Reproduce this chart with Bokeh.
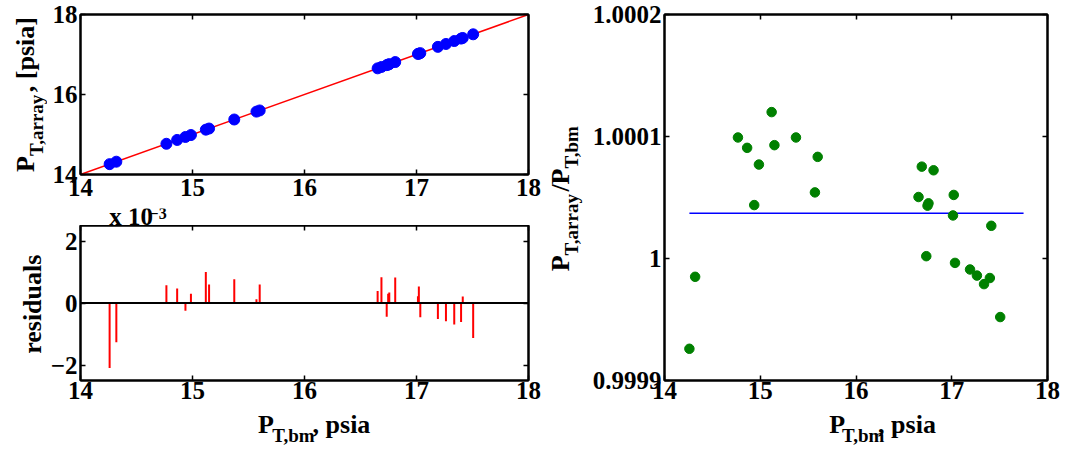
import math
from bokeh.plotting import figure
from bokeh.layouts import row, column
from bokeh.models import Label, LinearAxis, FixedTicker, Span
from bokeh.embed import file_html
from bokeh.resources import INLINE

# ---- data ----
p_bm = [14.260, 14.320, 14.767, 14.863, 14.937, 14.986, 15.119, 15.148, 15.373,
        15.571, 15.600, 16.653, 16.687, 16.734, 16.747, 16.757, 16.810, 17.013,
        17.021, 17.034, 17.191, 17.263, 17.337, 17.398, 17.413, 17.506]
p_array = [14.259, 14.320, 14.768, 14.864, 14.938, 14.987, 15.121, 15.149, 15.375,
           15.572, 15.601, 16.654, 16.688, 16.734, 16.748, 16.758, 16.811, 17.014,
           17.022, 17.034, 17.191, 17.263, 17.337, 17.398, 17.413, 17.505]
ratio = [0.999926, 0.999985, 1.0000992, 1.0000907, 1.0000438, 1.0000770, 1.0001200,
         1.0000929, 1.0000992, 1.0000542, 1.0000833, 1.0000504, 1.0000753, 1.0000019,
         1.0000433, 1.0000452, 1.0000723, 1.0000353, 1.0000521, 0.9999964, 0.9999910,
         0.9999860, 0.9999790, 0.9999840, 1.0000268, 0.9999520]
resid_e3 = [-2.10, -1.27, 0.57, 0.47, -0.25, 0.30, 1.00, 0.60, 0.77, 0.12, 0.60,
            0.39, 0.83, -0.44, 0.30, 0.34, 0.82, 0.22, 0.53, -0.46, -0.52, -0.59,
            -0.69, -0.61, 0.21, -1.13]
ident_line = [14, 18]
fit_x = [14.26, 17.75]
fit_ratio = [1.000037, 1.000037]

x_ticks = [14, 15, 16, 17, 18]
y1_ticks = [14, 16, 18]
y2_ticks = [-2, 0, 2]
y2_labels = ["\u22122", "0", "2"]
y3_ticks = [0.9999, 1.0, 1.0001, 1.0002]
y3_labels = ["0.9999", "1", "1.0001", "1.0002"]

FONT = "Liberation Serif"
TICK = 25
MAIN = 26
SUB = 19
SH = 8          # subscript drop in px
MID = 0.3375    # label anchor sits this fraction of the font size above the baseline

W = {' ': 250, ',': 250, '.': 250, '/': 278, '[': 333, ']': 333, 'P': 611, 'T': 667,
     'a': 500, 'b': 556, 'd': 556, 'e': 444, 'i': 278, 'l': 278, 'm': 833, 'p': 556,
     'r': 444, 's': 389, 'u': 556, 'x': 500, 'y': 500, '\u2212': 570}


def tw(t, s):
    return sum(W.get(c, 500) for c in t) * s / 1000.0 + (1.0 if s < MAIN else 0.0)


def mk(x, y, t, s, angle=0.0):
    return Label(x=x, y=y, text=t, text_font=FONT, text_font_style="bold",
                 text_font_size=f"{s}px", text_color="black", text_align="left",
                 text_baseline="alphabetic", angle=angle)


def hlabel(p, pieces, x0, base_y, center=True):
    total = sum(tw(t, s) for t, s, _ in pieces)
    x = x0 - total / 2 if center else x0
    for t, s, sh in pieces:
        p.add_layout(mk(x, base_y + sh + MID * s, t, s))
        x += tw(t, s)


def vlabel(p, pieces, base_x, cy):
    total = sum(tw(t, s) for t, s, _ in pieces)
    y = cy - total / 2
    for t, s, sh in pieces:
        p.add_layout(mk(base_x - sh - MID * s, y, t, s, angle=math.pi / 2))
        y += tw(t, s)


def holder(w, h):
    f = figure(width=w, height=h, x_range=(0, w), y_range=(0, h), output_backend="svg",
               toolbar_location=None, min_border=0, x_axis_location=None,
               y_axis_location=None)
    f.xgrid.visible = False
    f.ygrid.visible = False
    f.outline_line_color = None
    f.background_fill_color = "white"
    f.border_fill_color = "white"
    return f


def style_axis(ax, ticks, labels=None, standoff=3):
    ax.ticker = FixedTicker(ticks=ticks)
    ax.major_tick_in = 5
    ax.major_tick_out = 0
    ax.minor_tick_in = 0
    ax.minor_tick_out = 0
    ax.axis_line_color = "black"
    ax.axis_line_width = 2
    ax.major_tick_line_color = "black"
    ax.major_tick_line_width = 1.5
    ax.major_label_text_font = FONT
    ax.major_label_text_font_style = "bold"
    ax.major_label_text_color = "black"
    if labels is False:
        ax.major_label_overrides = {t: "" for t in ticks}
        ax.major_label_text_font_size = "1px"
        ax.major_label_standoff = 0
    else:
        ax.major_label_text_font_size = f"{TICK}px"
        ax.major_label_standoff = standoff
        if labels is not None:
            ax.major_label_overrides = dict(zip(ticks, labels))


def make_fig(w, h, yr, bl, br, bt, bb, yticks, ylabels=None, xstand=3):
    p = figure(width=w, height=h, x_range=(14, 18), y_range=yr, output_backend="svg",
               toolbar_location=None, min_border_left=bl, min_border_right=br,
               min_border_top=bt, min_border_bottom=bb)
    p.xgrid.visible = False
    p.ygrid.visible = False
    p.outline_line_color = "black"
    p.outline_line_width = 2
    p.background_fill_color = "white"
    p.border_fill_color = "white"
    style_axis(p.xaxis[0], x_ticks, standoff=xstand)
    style_axis(p.yaxis[0], yticks, ylabels, standoff=3)
    top = LinearAxis()
    style_axis(top, x_ticks, labels=False)
    p.add_layout(top, "above")
    right = LinearAxis()
    style_axis(right, yticks, labels=False)
    p.add_layout(right, "right")
    return p


# ---- top-left: P_array vs P_bm (canvas rows 0..208) ----
p1 = make_fig(498, 208, (14, 18), 32, 17, 14, 34, y1_ticks, xstand=4)
p1.line(ident_line, ident_line, line_color="#ff0000", line_width=1.5)
p1.scatter(p_bm, p_array, size=11, fill_color="#0000ff", line_color="#0000ff")

# exponent note above the residual panel (canvas rows 208..225)
hx = holder(498, 17)
hlabel(hx, [("x 10", TICK, 0), ("\u22123", 16, 6)], 32, 0.5, center=False)

# ---- bottom-left: residuals (canvas rows 225..409) ----
p2 = make_fig(498, 184, (-2.5, 2.5), 32, 17, 0, 29, y2_ticks, y2_labels, xstand=1)
p2.add_layout(Span(location=0, dimension="width", line_color="black", line_width=2))
p2.segment(x0=p_bm, y0=0, x1=p_bm, y1=resid_e3, line_color="#ff0000", line_width=2)

hxl = holder(498, 40)
hlabel(hxl, [("P", MAIN, 0), ("T,bm", SUB, -SH), (", psia", MAIN, 0)], 256.5, 16)

# y-labels of the left panels
hl = holder(47, 449)
vlabel(hl, [("P", MAIN, 0), ("T,array", SUB, -SH), (", [psia]", MAIN, 0)], 34, 355)
vlabel(hl, [("residuals", MAIN, 0)], 41, 145.5)

# ---- right: ratio ----
p3 = make_fig(476, 409, (0.9999, 1.0002), 74, 18, 14, 29, y3_ticks, y3_labels, xstand=1)
p3.line(fit_x, fit_ratio, line_color="#0000ff", line_width=1.5)
p3.scatter(p_bm, ratio, size=9.5, fill_color="#008000", line_color="#008000")

hrx = holder(476, 40)
hlabel(hrx, [("P", MAIN, 0), ("T,bm", SUB, -SH), (", psia", MAIN, 0)], 264, 16)

hry = holder(44, 449)
vlabel(hry, [("P", MAIN, 0), ("T,array", SUB, -SH), ("/P", MAIN, 0), ("T,bm", SUB, -SH)], 24, 252)

left = row(hl, column(p1, hx, p2, hxl, spacing=0), spacing=0)
right = row(hry, column(p3, hrx, spacing=0), spacing=0)
layout = row(left, right, spacing=0)
open("out.html", "w").write(file_html(layout, INLINE))
